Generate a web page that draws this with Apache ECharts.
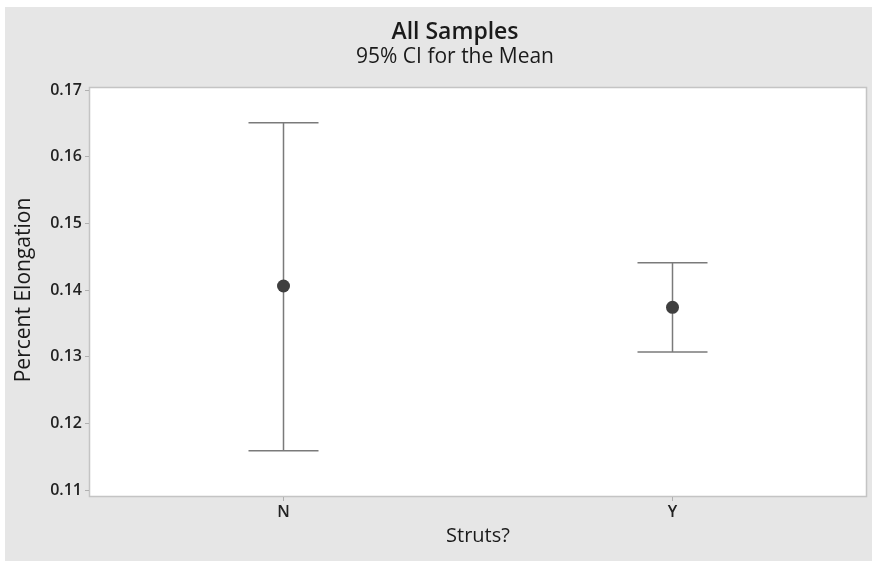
<!DOCTYPE html>
<html>
<head>
<meta charset="utf-8">
<script src="https://cdn.jsdelivr.net/npm/echarts@6/dist/echarts.min.js"></script>
<style>
html,body{margin:0;padding:0;background:#fff;}
#c{width:872px;height:561px;}
</style>
</head>
<body>
<div id="c"></div>
<script>
var categories = ['N', 'Y'];
var means = [0.1406, 0.1374];
var lowers = [0.1159, 0.1307];
var uppers = [0.1651, 0.1441];
var yTicks = [0.11, 0.12, 0.13, 0.14, 0.15, 0.16, 0.17];

var FONT = '"Open Sans", "Noto Sans", sans-serif';
var chart = echarts.init(document.getElementById('c'));

var errData = categories.map(function (c, i) { return [i, lowers[i], uppers[i]]; });
var meanData = categories.map(function (c, i) { return [i, means[i]]; });

chart.setOption({
  backgroundColor: '#ffffff',
  animation: false,
  graphic: [
    { type: 'rect', z: -10, shape: { x: 5, y: 7, width: 867, height: 554 }, style: { fill: '#e6e6e6' } },
    { type: 'rect', z: -9, shape: { x: 89.5, y: 87.5, width: 777, height: 409 }, style: { fill: '#ffffff', stroke: '#c4c4c4', lineWidth: 1.5 } }
  ],
  title: {
    text: 'All Samples',
    subtext: '95% CI for the Mean',
    left: 450,
    textAlign: 'center',
    top: 16,
    itemGap: 3,
    textStyle: { fontFamily: FONT, fontSize: 23, fontWeight: 600, color: '#1a1a1a' },
    subtextStyle: { fontFamily: FONT, fontSize: 21, fontWeight: 400, color: '#1a1a1a' }
  },
  grid: { left: 89, right: 5, top: 90, bottom: 71, containLabel: false },
  xAxis: {
    type: 'category',
    data: categories,
    offset: 7,
    boundaryGap: true,
    axisLine: { show: false },
    axisTick: { show: true, alignWithLabel: true, length: 4, lineStyle: { color: '#b0b0b0' } },
    axisLabel: { fontFamily: FONT, fontSize: 16, fontWeight: 600, color: '#222', margin: 7 },
    name: 'Struts?',
    nameLocation: 'middle',
    nameGap: 29,
    nameTextStyle: { fontFamily: FONT, fontSize: 20, color: '#1a1a1a' },
    splitLine: { show: false }
  },
  yAxis: {
    type: 'value',
    min: yTicks[0],
    max: yTicks[yTicks.length - 1],
    interval: 0.01,
    axisLine: { show: false },
    axisTick: { show: true, length: 4, lineStyle: { color: '#b0b0b0' } },
    axisLabel: { fontFamily: FONT, fontSize: 16, fontWeight: 600, color: '#222', margin: 7,
      formatter: function (v) { return v.toFixed(2); } },
    splitLine: { show: false },
    name: 'Percent Elongation',
    nameLocation: 'middle',
    nameGap: 54,
    nameTextStyle: { fontFamily: FONT, fontSize: 21, color: '#1a1a1a' }
  },
  series: [
    {
      type: 'custom',
      data: errData,
      renderItem: function (params, api) {
        var x = api.value(0);
        var lo = api.coord([x, api.value(1)]);
        var hi = api.coord([x, api.value(2)]);
        var hw = 35;
        var st = { stroke: '#7a7a7a', lineWidth: 1.5 };
        return {
          type: 'group',
          children: [
            { type: 'line', shape: { x1: lo[0], y1: lo[1], x2: hi[0], y2: hi[1] }, style: st },
            { type: 'line', shape: { x1: hi[0] - hw, y1: hi[1], x2: hi[0] + hw, y2: hi[1] }, style: st },
            { type: 'line', shape: { x1: lo[0] - hw, y1: lo[1], x2: lo[0] + hw, y2: lo[1] }, style: st }
          ]
        };
      },
      z: 2
    },
    {
      type: 'scatter',
      data: meanData,
      symbol: 'circle',
      symbolSize: 13,
      itemStyle: { color: '#3f3f3f', opacity: 1 },
      z: 3
    }
  ]
});
</script>
</body>
</html>
